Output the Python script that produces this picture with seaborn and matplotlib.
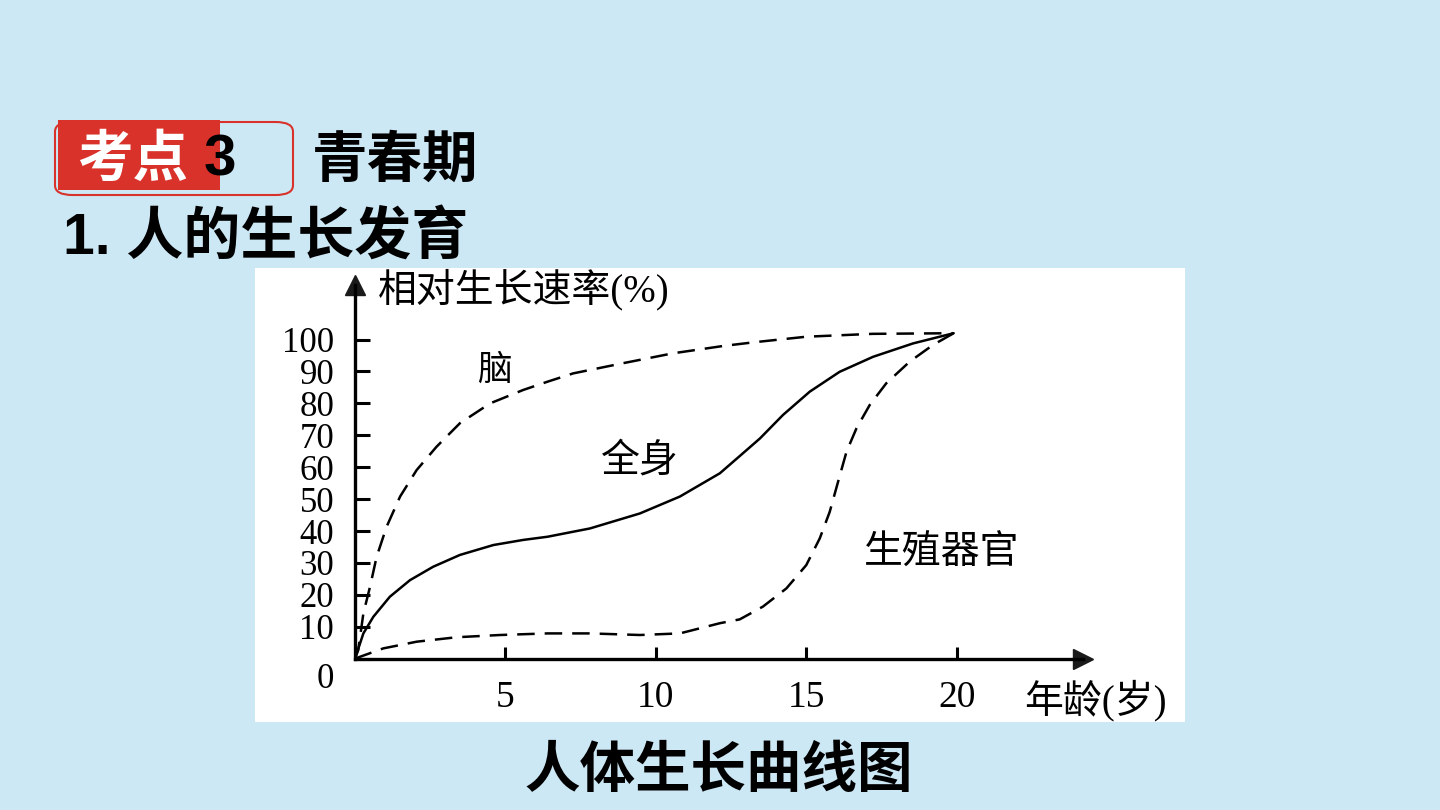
import matplotlib
matplotlib.use("Agg")
import matplotlib.pyplot as plt
from matplotlib.patches import Rectangle, FancyBboxPatch
from matplotlib.transforms import ScaledTranslation
import seaborn as sns
import pandas as pd

# values (age in years, relative growth %)
brain_age = [0, 0.11, 0.28, 0.5, 0.72, 1.05, 1.5, 2.05, 2.71, 3.49, 4.49, 5.59, 6.4, 7.25, 8.91,
             10.57, 12.24, 13.3, 15.0, 17.2, 19.9]
brain_val = [0, 2.7, 14.2, 22.5, 31.9, 41.3, 50.8, 59.1, 66.4, 73.8, 80, 84.2, 86.8, 89.4, 92.6,
             95.7, 98, 99.2, 100.9, 101.8, 102]

body_age = [0, 0.28, 0.61, 1.16, 1.83, 2.6, 3.49, 4.6, 5.59, 6.4, 7.81, 9.47, 10.8, 12.13, 12.79,
            13.46, 14.23, 15.12, 16.11, 17.22, 18.55, 19.9]
body_val = [0, 7.9, 13.1, 19.4, 24.6, 28.8, 32.5, 35.6, 37.2, 38.2, 40.8, 45.5, 50.8, 58.1, 63.5,
            69, 76.4, 83.7, 89.9, 94.6, 98.8, 102]

repro_age = [0, 0.94, 2.05, 3.38, 4.82, 6.4, 7.81, 9.47, 10.8, 12.13, 12.79, 13.56, 14.34, 15.0,
             15.45, 15.78, 16.06, 16.34, 16.67, 17.11, 17.66, 18.44, 19.21, 19.9]
repro_val = [0, 3.2, 5.3, 6.7, 7.4, 7.9, 7.9, 7.4, 7.9, 11.1, 12.3, 16.3, 22, 29.3,
             37.7, 46, 55.5, 64.9, 72.2, 79.5, 86.3, 93.1, 98.3, 102]

x_ticks = [5, 10, 15, 20]
y_ticks = [0, 10, 20, 30, 40, 50, 60, 70, 80, 90, 100]

curves = pd.concat([
    pd.DataFrame({"age": brain_age, "val": brain_val, "curve": "脑"}),
    pd.DataFrame({"age": body_age, "val": body_val, "curve": "全身"}),
    pd.DataFrame({"age": repro_age, "val": repro_val, "curve": "生殖器官"}),
])

sns.set_theme(style="white")
plt.rcParams['font.family'] = ['Liberation Serif', 'Noto Sans CJK SC']

bg = '#cde8f5'
fig = plt.figure(figsize=(14.4, 8.1), dpi=100)
fig.patch.set_facecolor(bg)

# white picture panel
fig.add_artist(Rectangle((0.177, 0.1086), 0.646, 0.5605, transform=fig.transFigure,
                         facecolor='white', edgecolor='none', zorder=-1))

ax = fig.add_axes([0.2465, 0.1869, 0.5056, 0.4612])
ax.set_facecolor('none')

sns.lineplot(data=curves, x='age', y='val', hue='curve', style='curve',
             palette={'脑': 'black', '全身': 'black', '生殖器官': 'black'},
             dashes={'脑': (7, 4), '全身': '', '生殖器官': (7, 4)},
             estimator=None, sort=False, lw=1.8, legend=False, ax=ax)

ax.set_xlim(0, 24.2)
ax.set_ylim(0, 117.1)
ax.set_xlabel('')
ax.set_ylabel('')
for s in ['top', 'right']:
    ax.spines[s].set_visible(False)
for s in ['left', 'bottom']:
    ax.spines[s].set_color('black')
    ax.spines[s].set_linewidth(2.4)

ax.set_xticks(x_ticks)
ax.set_yticks(y_ticks)
ax.tick_params(axis='x', bottom=True, direction='in', length=9, width=2.2, colors='black',
               labelsize=27, pad=16)
ax.tick_params(axis='y', left=True, direction='in', length=11, width=2.2, colors='black',
               labelsize=25, pad=15)
zero_lab = ax.yaxis.get_major_ticks()[0].label1
zero_lab.set_transform(zero_lab.get_transform() + ScaledTranslation(0, -0.17, fig.dpi_scale_trans))

# arrow heads
ax.plot(1, 0, '>k', ms=15, transform=ax.get_yaxis_transform(), clip_on=False)
ax.plot(0, 1, '^k', ms=15, transform=ax.get_xaxis_transform(), clip_on=False)

chart_font = ['Liberation Serif', 'Noto Sans CJK SC']
ax.text(0.76, 115.6, '相对生长速率(%)', ha='left', va='center', fontsize=28, color='black',
        family=chart_font)
ax.text(24.6, -13.2, '年龄(岁)', ha='center', va='center', fontsize=28, color='black',
        family=chart_font, clip_on=False)
ax.text(4.65, 90, '脑', ha='center', va='center', fontsize=25, color='black', family=chart_font)
ax.text(9.47, 61.5, '全身', ha='center', va='center', fontsize=28, color='black', family=chart_font)
ax.text(19.5, 32.8, '生殖器官', ha='center', va='center', fontsize=28, color='black', family=chart_font)

# slide header
red = '#d8322a'
fig.add_artist(FancyBboxPatch((55 / 1440, 1 - 195 / 810), 238 / 1440, 73 / 810,
                              boxstyle='round,pad=0,rounding_size=0.012', transform=fig.transFigure,
                              facecolor='none', edgecolor=red, lw=1.5, zorder=1))
fig.add_artist(Rectangle((58 / 1440, 1 - 190 / 810), 162 / 1440, 70 / 810, transform=fig.transFigure,
                         facecolor=red, edgecolor='none', zorder=1))

head_font = ['Liberation Sans', 'Noto Sans CJK SC']
fig.text(77 / 1440, 1 - 162 / 810, '考点', color='white', fontsize=40, fontweight='bold',
         family=head_font, ha='left', va='center', zorder=3)
fig.text(204 / 1440, 1 - 160 / 810, '3', color='black', fontsize=42, fontweight='bold',
         family=head_font, ha='left', va='center', zorder=3)
fig.text(312 / 1440, 1 - 163 / 810, '青春期', color='black', fontsize=40, fontweight='bold',
         family=head_font, ha='left', va='center')
fig.text(63 / 1440, 1 - 238 / 810, '1. 人的生长发育', color='black', fontsize=41, fontweight='bold',
         family=head_font, ha='left', va='center')
fig.text(719 / 1440, 1 - 773 / 810, '人体生长曲线图', color='black', fontsize=40, fontweight='bold',
         family=head_font, ha='center', va='center')

fig.savefig('out.png', dpi=100, facecolor=bg)
